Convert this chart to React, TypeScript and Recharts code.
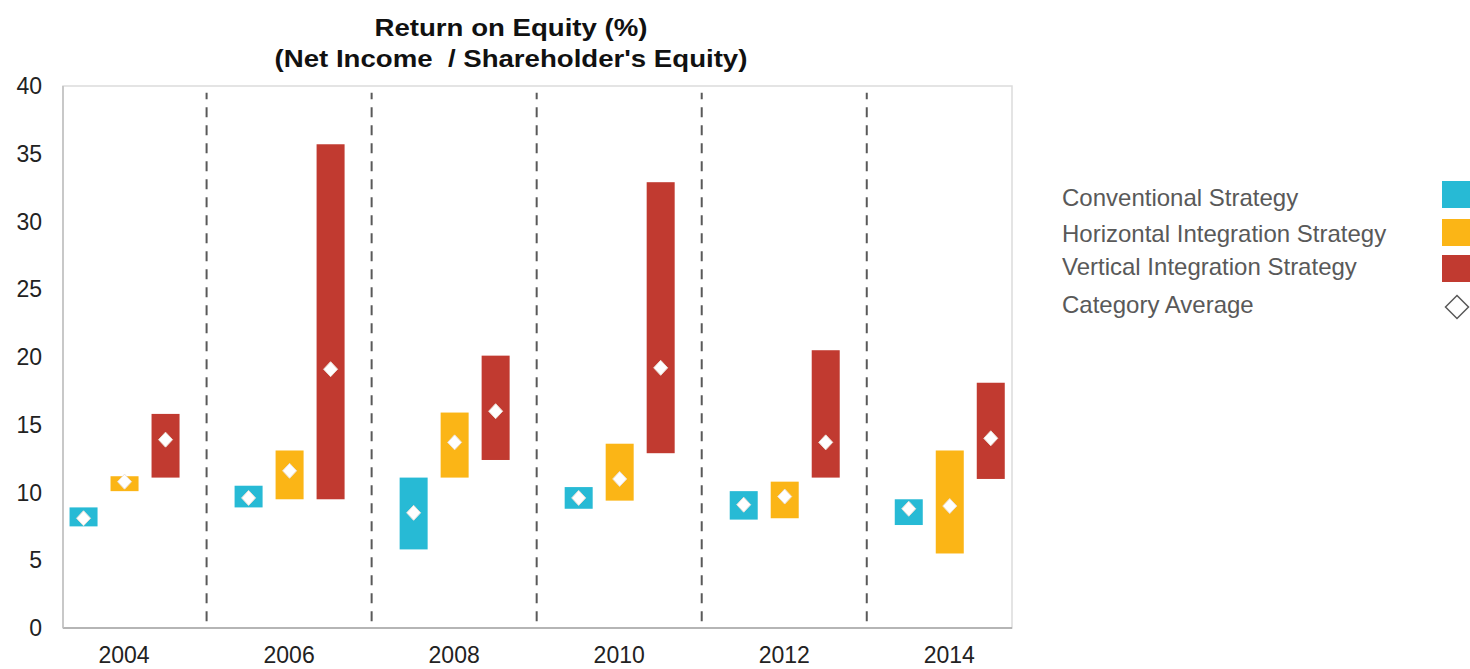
import React from "react";
import { ComposedChart, Bar, XAxis, YAxis, ReferenceLine, ReferenceArea } from "recharts";

const years = [2004, 2006, 2008, 2010, 2012, 2014];

const conventionalLow = [7.5, 8.9, 5.8, 8.8, 8.0, 7.6];
const conventionalHigh = [8.9, 10.5, 11.1, 10.4, 10.1, 9.5];
const conventionalAvg = [8.1, 9.6, 8.5, 9.6, 9.1, 8.8];

const horizontalLow = [10.1, 9.5, 11.1, 9.4, 8.1, 5.5];
const horizontalHigh = [11.2, 13.1, 15.9, 13.6, 10.8, 13.1];
const horizontalAvg = [10.8, 11.6, 13.7, 11.0, 9.7, 9.0];

const verticalLow = [11.1, 9.5, 12.4, 12.9, 11.1, 11.0];
const verticalHigh = [15.8, 35.7, 20.1, 32.9, 20.5, 18.1];
const verticalAvg = [13.9, 19.1, 16.0, 19.2, 13.7, 14.0];

const yTicks = [0, 5, 10, 15, 20, 25, 30, 35, 40];
const seriesNames = ["Conventional Strategy", "Horizontal Integration Strategy", "Vertical Integration Strategy"];
const averageName = "Category Average";
const titleLines = ["Return on Equity (%)", "(Net Income  / Shareholder's Equity)"];

const CYAN = "#27bad5";
const YELLOW = "#fbb516";
const RED = "#c13a30";
const FONT = "'Liberation Sans', Arial, sans-serif";

const X_MIN = 2003.26;
const X_MAX = 2014.76;

const data = years.map((year, i) => ({
  year,
  conventional: [conventionalLow[i], conventionalHigh[i]],
  conventionalAvg: conventionalAvg[i],
  horizontal: [horizontalLow[i], horizontalHigh[i]],
  horizontalAvg: horizontalAvg[i],
  vertical: [verticalLow[i], verticalHigh[i]],
  verticalAvg: verticalAvg[i],
}));

// separators halfway between the years
const separators = years.slice(1).map((y, i) => (y + years[i]) / 2);

// bar shape: the range rect plus a diamond for the average, placed inside the bar's own geometry
const rangeWithAverage = (rangeKey: string, avgKey: string) => (props: any) => {
  const { x, y, width, height, fill, payload } = props;
  const [low, high] = payload[rangeKey];
  const avg = payload[avgKey];
  const top = Math.min(y, y + height);
  const h = Math.abs(height);
  const cy = top + (h * (high - avg)) / (high - low);
  const cx = x + width / 2;
  const rx = 7;
  const ry = 7.5;
  return (
    <g>
      <rect x={x} y={top} width={width} height={h} fill={fill} />
      <path
        d={`M${cx},${cy - ry}L${cx + rx},${cy}L${cx},${cy + ry}L${cx - rx},${cy}Z`}
        fill="#ffffff"
        stroke="#eadfd6"
        strokeWidth={1}
      />
    </g>
  );
};

const legendRows = [
  { name: seriesNames[0], color: CYAN, textY: 197, boxTop: 181 },
  { name: seriesNames[1], color: YELLOW, textY: 232.5, boxTop: 219 },
  { name: seriesNames[2], color: RED, textY: 266, boxTop: 255 },
];

const legendText = (top: number): React.CSSProperties => ({
  position: "absolute",
  left: 1062,
  top: top - 13,
  height: 28,
  lineHeight: "28px",
  fontSize: 24,
  color: "#595959",
  whiteSpace: "nowrap",
});

export default function App() {
  return (
    <div style={{ position: "absolute", left: 0, top: 0, width: 1470, height: 669, background: "#fff", fontFamily: FONT }}>
      <div
        style={{
          position: "absolute",
          left: 0,
          top: 12,
          width: 1022,
          textAlign: "center",
          fontWeight: "bold",
          fontSize: 24,
          lineHeight: "31px",
          color: "#111",
          whiteSpace: "pre",
          transform: "scaleX(1.15)",
          transformOrigin: "511px 0",
        }}
      >
        {titleLines.map((t) => (
          <div key={t}>{t}</div>
        ))}
      </div>

      <ComposedChart
        width={1470}
        height={669}
        data={data}
        margin={{ top: 86, right: 458, bottom: 0, left: 0 }}
        barGap={13}
      >
        <ReferenceArea x1={X_MIN} x2={X_MAX} y1={0} y2={40} fill="none" stroke="#dcdcdc" strokeWidth={1.5} />
        <XAxis
          type="number"
          dataKey="year"
          domain={[X_MIN, X_MAX]}
          ticks={years}
          interval={0}
          height={41}
          tickLine={false}
          tickMargin={13}
          axisLine={{ stroke: "#a6a6a6", strokeWidth: 1.5 }}
          tick={{ fill: "#222", fontSize: 23, fontFamily: FONT }}
        />
        <YAxis
          domain={[0, 40]}
          ticks={yTicks}
          width={63}
          tickLine={false}
          tickMargin={15}
          axisLine={{ stroke: "#bfbfbf", strokeWidth: 1.5 }}
          tick={{ fill: "#222", fontSize: 23, fontFamily: FONT }}
        />
        {separators.map((s) => (
          <ReferenceLine
            key={s}
            segment={[{ x: s, y: 0.5 }, { x: s, y: 39.5 }]}
            stroke="#595959"
            strokeWidth={2}
            strokeDasharray="10 8"
          />
        ))}
        <Bar dataKey="conventional" fill={CYAN} barSize={28} isAnimationActive={false} shape={rangeWithAverage("conventional", "conventionalAvg")} />
        <Bar dataKey="horizontal" fill={YELLOW} barSize={28} isAnimationActive={false} shape={rangeWithAverage("horizontal", "horizontalAvg")} />
        <Bar dataKey="vertical" fill={RED} barSize={28} isAnimationActive={false} shape={rangeWithAverage("vertical", "verticalAvg")} />
      </ComposedChart>

      {legendRows.map((r) => (
        <React.Fragment key={r.name}>
          <div style={legendText(r.textY)}>{r.name}</div>
          <div style={{ position: "absolute", left: 1442, top: r.boxTop, width: 28, height: 27, background: r.color }} />
        </React.Fragment>
      ))}
      <div style={legendText(304)}>{averageName}</div>
      <svg style={{ position: "absolute", left: 1444, top: 294 }} width={26} height={26}>
        <path d="M13,1.5L24.5,13L13,24.5L1.5,13Z" fill="#fff" stroke="#595959" strokeWidth={1.5} />
      </svg>
    </div>
  );
}
